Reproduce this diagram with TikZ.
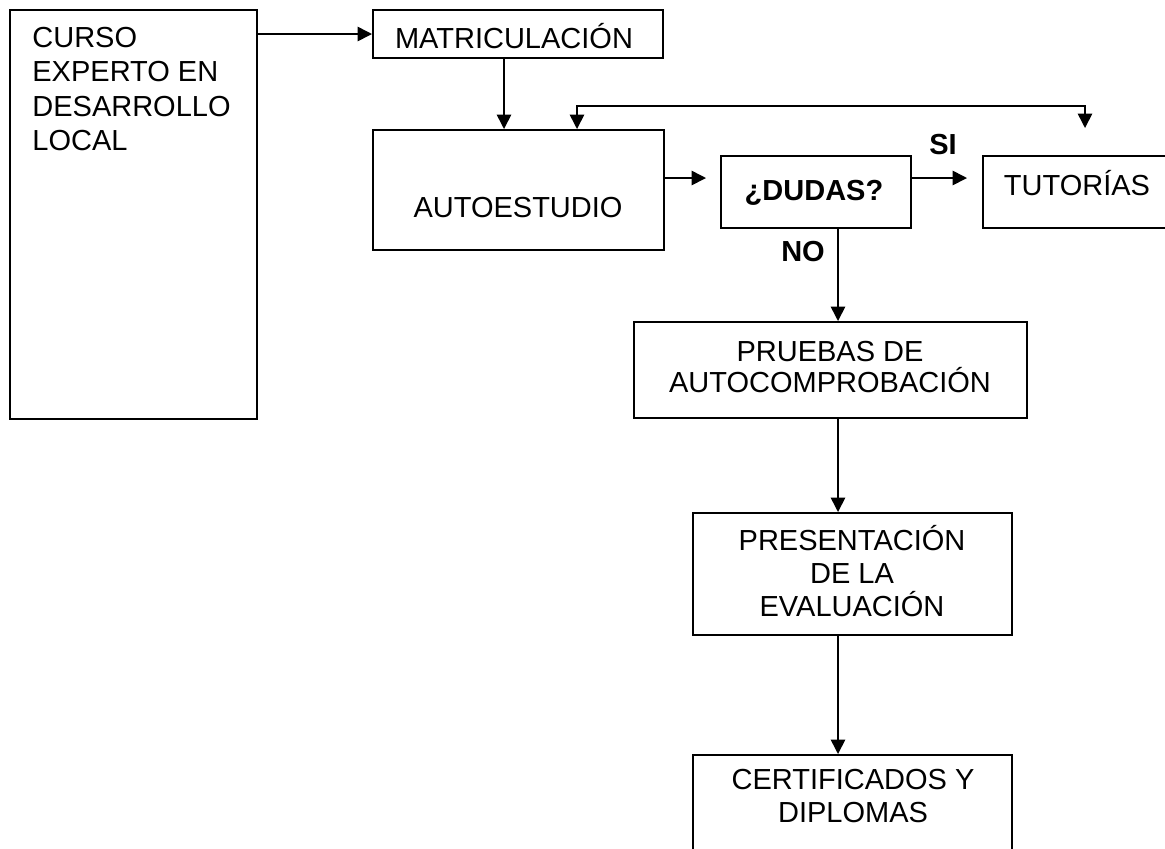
\documentclass[tikz,border=0pt]{standalone}
\usepackage{fontspec}
\setmainfont{Liberation Sans}
\usetikzlibrary{arrows.meta,fit}

\tikzset{
  caja/.style={draw,line width=1pt,inner sep=0pt},
  punta/.tip={Triangle[length=7.2pt,width=7.2pt]},
  flecha/.style={line width=0.8pt,-punta},
  texto/.style={align=center,inner sep=0pt}
}

\begin{document}
\begin{tikzpicture}[x=0.5pt,y=-0.5pt,font=\fontsize{14.5}{16.5}\selectfont]
        \useasboundingbox (0,0) rectangle (1165,848);
        % cajas
        \node[caja,fit={(10,10) (257,419)}] (curso) {};
        \node[caja,fit={(373,10) (663,58)}] (matric) {};
        \node[caja,fit={(373,130) (664,250)}] (auto) {};
        \node[caja,fit={(721,156) (911,228)}] (dudas) {};
        \node[caja,fit={(983,156) (1180,228)}] (tut) {};
        \node[caja,fit={(634,322) (1027,418)}] (pruebas) {};
        \node[caja,fit={(693,513) (1012,635)}] (present) {};
        \node[caja,fit={(693,755) (1012,870)}] (cert) {};
        % textos
        \node[align=left,anchor=west,inner sep=0pt,font=\fontsize{14.5}{17.2}\selectfont] (cursotxt) at (32,89) {CURSO\\EXPERTO EN\\DESARROLLO\\LOCAL};
        \node[texto] (matrictxt) at (514,36) {MATRICULACIÓN};
        \node[texto] (autotxt) at (518,208) {AUTOESTUDIO};
        \node[texto,font=\fontsize{14.5}{16.5}\selectfont\bfseries] (dudastxt) at (814,193) {¿DUDAS?};
        \node[texto] (tuttxt) at (1077,183) {TUTORÍAS};
        \node[texto,font=\fontsize{14.5}{15.5}\selectfont] (pruebastxt) at (830,367) {PRUEBAS DE\\AUTOCOMPROBACIÓN};
        \node[texto] (presenttxt) at (852,571) {PRESENTACIÓN\\DE LA\\EVALUACIÓN};
        \node[texto] (certtxt) at (853,796) {CERTIFICADOS Y\\DIPLOMAS};
        \node[texto,font=\fontsize{14.5}{16.5}\selectfont\bfseries] (si) at (943,145) {SI};
        \node[texto,font=\fontsize{14.5}{16.5}\selectfont\bfseries] (no) at (803,252) {NO};
        % puntos de paso
        \coordinate (c1) at (504,0);
        \coordinate (c2) at (0,178);
        \coordinate (c3) at (838,0);
        \coordinate (fbl) at (577,106);
        \coordinate (fbr) at (1085,106);
        \coordinate (fbend) at (1085,128);
        % flechas
        \draw[flecha] (curso.east |- matric.west) -- (matric.west);
        \draw[flecha] (matric.south -| c1) -- (auto.north -| c1);
        \draw[flecha,punta-punta] (fbend) -- (fbr) -- (fbl) -- (auto.north -| fbl);
        \draw[flecha,shorten >=7pt] (auto.east |- c2) -- (dudas.west |- c2);
        \draw[flecha,shorten >=7.5pt] (dudas.east |- c2) -- (tut.west |- c2);
        \draw[flecha] (dudas.south -| c3) -- (pruebas.north -| c3);
        \draw[flecha] (pruebas.south -| c3) -- (present.north -| c3);
        \draw[flecha] (present.south -| c3) -- (cert.north -| c3);
    \end{tikzpicture}
\end{document}
